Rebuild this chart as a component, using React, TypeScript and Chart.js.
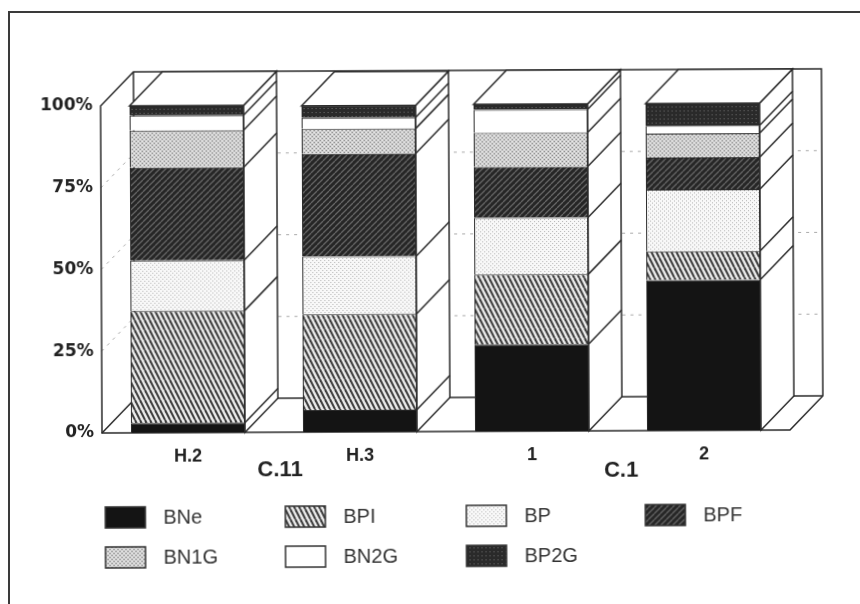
import React, { useEffect, useRef } from "react";
import { Chart, registerables } from "chart.js";

Chart.register(...registerables);

const categories = ["H.2", "H.3", "1", "2"];
const yTicks = [0, 25, 50, 75, 100];
const BNe = [3.0, 6.7, 26.5, 46.0];
const BPI = [34.2, 29.3, 21.4, 8.8];
const BP = [15.5, 17.7, 17.4, 18.9];
const BPF = [28.4, 31.4, 15.6, 9.8];
const BN1G = [11.3, 7.6, 10.4, 7.3];
const BN2G = [4.6, 3.4, 7.0, 2.4];
const BP2G = [3.0, 3.7, 1.7, 6.8];
const groupLabels = ["C.11", "C.1"];

const INK = "#2a2a2a";

function tile(w: number, h: number, paint: (c: CanvasRenderingContext2D) => void) {
  const cv = document.createElement("canvas");
  cv.width = w;
  cv.height = h;
  const c = cv.getContext("2d")!;
  paint(c);
  return c.createPattern(cv, "repeat")!;
}

function stripes(c: CanvasRenderingContext2D, w: number, h: number, color: string, width: number, dir: 1 | -1) {
  c.strokeStyle = color;
  c.lineWidth = width;
  for (let i = -2 * w; i <= 2 * w; i += w) {
    c.beginPath();
    if (dir === 1) {
      c.moveTo(i, 0);
      c.lineTo(i + w, h);
    } else {
      c.moveTo(i + w, 0);
      c.lineTo(i, h);
    }
    c.stroke();
  }
}

function dots(c: CanvasRenderingContext2D, pts: number[][], color: string, r = 1) {
  c.fillStyle = color;
  pts.forEach(([x, y]) => c.fillRect(x, y, r, r));
}

function makePatterns() {
  return {
    BNe: "#141414" as string | CanvasPattern,
    BPI: tile(5, 10, (c) => {
      c.fillStyle = "#ececec";
      c.fillRect(0, 0, 5, 10);
      stripes(c, 5, 10, "#3a3a3a", 2, 1);
    }),
    BP: tile(4, 4, (c) => {
      c.fillStyle = "#f8f8f8";
      c.fillRect(0, 0, 4, 4);
      dots(c, [[1, 1], [3, 3]], "#b4b4b4");
    }),
    BPF: tile(6, 6, (c) => {
      c.fillStyle = "#262626";
      c.fillRect(0, 0, 6, 6);
      stripes(c, 6, 6, "#666", 1.3, -1);
    }),
    BN1G: tile(4, 4, (c) => {
      c.fillStyle = "#cfcfcf";
      c.fillRect(0, 0, 4, 4);
      dots(c, [[1, 1], [3, 3]], "#808080");
      dots(c, [[3, 1], [1, 3]], "#f2f2f2");
    }),
    BN2G: "#ffffff" as string | CanvasPattern,
    BP2G: tile(4, 4, (c) => {
      c.fillStyle = "#2a2a2a";
      c.fillRect(0, 0, 4, 4);
      dots(c, [[1, 1]], "#707070");
    }),
  };
}

const DX = 33;
const DY = -34;

function line(c: CanvasRenderingContext2D, x0: number, y0: number, x1: number, y1: number) {
  c.beginPath();
  c.moveTo(x0, y0);
  c.lineTo(x1, y1);
  c.stroke();
}

const box3d = {
  id: "box3d",
  beforeDatasetsDraw(chart: any) {
    const c: CanvasRenderingContext2D = chart.ctx;
    const { left, right, top, bottom } = chart.chartArea;
    const y = chart.scales.y;
    c.save();
    c.strokeStyle = "#aaa";
    c.lineWidth = 1;
    c.setLineDash([3, 5]);
    [25, 50, 75].forEach((v) => {
      const p = y.getPixelForValue(v);
      line(c, left, p, left + DX, p + DY);
      line(c, left + DX, p + DY, right + DX, p + DY);
    });
    c.setLineDash([]);
    c.strokeStyle = INK;
    c.lineWidth = 1.5;
    c.beginPath();
    c.moveTo(left, bottom);
    c.lineTo(left, top);
    c.lineTo(left + DX, top + DY);
    c.lineTo(right + DX, top + DY);
    c.lineTo(right + DX, bottom + DY);
    c.lineTo(right, bottom);
    c.closePath();
    c.stroke();
    line(c, left + DX, top + DY, left + DX, bottom + DY);
    line(c, left, bottom, left + DX, bottom + DY);
    line(c, left + DX, bottom + DY, right + DX, bottom + DY);
    c.restore();
  },
  afterDatasetsDraw(chart: any) {
    const c: CanvasRenderingContext2D = chart.ctx;
    const metas = chart.data.datasets.map((_: any, i: number) => chart.getDatasetMeta(i));
    const last = metas[metas.length - 1];
    c.save();
    c.strokeStyle = INK;
    c.lineWidth = 1.5;
    c.fillStyle = "#fff";
    chart.data.labels.forEach((_: any, k: number) => {
      const bar0 = metas[0].data[k];
      const barTop = last.data[k];
      const half = bar0.width / 2;
      const xl = bar0.x - half;
      const xr = bar0.x + half;
      const yb = bar0.base;
      const yt = barTop.y;
      c.beginPath();
      c.moveTo(xr, yb);
      c.lineTo(xr + DX, yb + DY);
      c.lineTo(xr + DX, yt + DY);
      c.lineTo(xr, yt);
      c.closePath();
      c.fill();
      c.stroke();
      c.beginPath();
      c.moveTo(xl, yt);
      c.lineTo(xl + DX, yt + DY);
      c.lineTo(xr + DX, yt + DY);
      c.lineTo(xr, yt);
      c.closePath();
      c.fill();
      c.stroke();
      metas.slice(0, -1).forEach((m: any) => {
        const p = m.data[k].y;
        line(c, xr, p, xr + DX, p + DY);
      });
    });
    c.restore();
  },
  afterDraw(chart: any) {
    const c: CanvasRenderingContext2D = chart.ctx;
    c.save();
    // group labels
    c.fillStyle = "#222";
    c.font = "bold 22px 'Liberation Sans'";
    c.textAlign = "center";
    c.textBaseline = "middle";
    c.fillText(groupLabels[0], 280, 471);
    c.fillText(groupLabels[1], 621, 473);
    // legend
    const cols = [105, 285, 466, 645];
    const rows = [507, 547];
    c.font = "20px 'Liberation Sans'";
    c.textAlign = "left";
    chart.data.datasets.forEach((ds: any, i: number) => {
      const x = cols[i % 4];
      const y = rows[Math.floor(i / 4)];
      c.fillStyle = ds.backgroundColor;
      c.fillRect(x, y, 40, 21);
      c.strokeStyle = "#333";
      c.lineWidth = 1.5;
      c.strokeRect(x, y, 40, 21);
      c.fillStyle = "#333";
      c.fillText(ds.label, x + 58, y + 11);
    });
    c.restore();
  },
};

export default function App() {
  const ref = useRef<HTMLCanvasElement>(null);
  useEffect(() => {
    const p = makePatterns();
    const series: [string, number[], string | CanvasPattern][] = [
      ["BNe", BNe, p.BNe],
      ["BPI", BPI, p.BPI],
      ["BP", BP, p.BP],
      ["BPF", BPF, p.BPF],
      ["BN1G", BN1G, p.BN1G],
      ["BN2G", BN2G, p.BN2G],
      ["BP2G", BP2G, p.BP2G],
    ];
    const chart = new Chart(ref.current!, {
      type: "bar",
      data: {
        labels: categories,
        datasets: series.map(([label, data, fill]) => ({
          label,
          data,
          backgroundColor: fill as any,
          borderColor: INK,
          borderWidth: 1,
          barPercentage: 0.663,
          categoryPercentage: 1,
        })),
      },
      plugins: [box3d],
      options: {
        responsive: false,
        animation: false,
        devicePixelRatio: 1,
        layout: { padding: { top: 106, right: 70, left: 0, bottom: 0 } },
        plugins: { legend: { display: false }, tooltip: { enabled: false }, title: { display: false } },
        scales: {
          x: {
            stacked: true,
            grid: { display: false, drawTicks: false },
            border: { display: false },
            ticks: {
              padding: 13,
              color: "#222",
              font: { family: "'Liberation Sans'", weight: "bold", size: 18 },
              maxRotation: 0,
            },
            afterFit(s: any) {
              s.height = 171;
            },
          },
          y: {
            stacked: true,
            min: 0,
            max: 100,
            grid: { display: false, drawTicks: false },
            border: { display: false },
            afterBuildTicks(s: any) {
              s.ticks = yTicks.map((value) => ({ value }));
            },
            ticks: {
              padding: 8,
              color: "#222",
              font: { family: "'DejaVu Sans'", weight: "bold", size: 17 },
              callback: (v: any) => `${v}%`,
            },
            afterFit(s: any) {
              s.width = 102;
            },
          },
        },
      } as any,
    });
    return () => chart.destroy();
  }, []);
  return (
    <div style={{ position: "absolute", left: 0, top: 0, width: 860, height: 604, overflow: "hidden", background: "#fff" }}>
      <canvas
        ref={ref}
        width={860}
        height={604}
        style={{
          position: "absolute",
          left: 0,
          top: 0,
          display: "block",
          filter: "blur(0.5px)",
          transform: "rotate(-0.25deg)",
          transformOrigin: "103px 433px",
        }}
      />
      <div
        style={{
          position: "absolute",
          left: 8,
          top: 11,
          right: 0,
          bottom: 0,
          borderTop: "2px solid #3a3a3a",
          borderLeft: "2px solid #3a3a3a",
        }}
      />
    </div>
  );
}
